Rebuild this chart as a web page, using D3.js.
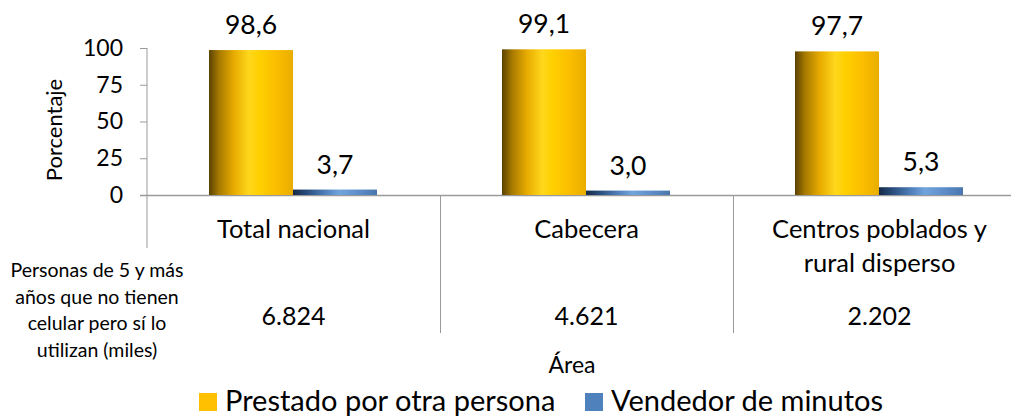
<!DOCTYPE html>
<html>
<head>
<meta charset="utf-8">
<script src="https://cdn.jsdelivr.net/npm/d3@7"></script>
<style>
  body { margin: 0; background: #fff; }
  text { font-family: Lato, "Open Sans", sans-serif; fill: #000; }
</style>
</head>
<body>
<svg id="chart" width="1011" height="418"></svg>
<script>
var categories = ["Total nacional", "Cabecera", "Centros poblados y rural disperso"];
var categoryLines = [["Total nacional"], ["Cabecera"], ["Centros poblados y", "rural disperso"]];
var series = ["Prestado por otra persona", "Vendedor de minutos"];
var prestado = [98.6, 99.1, 97.7];
var vendedor = [3.7, 3.0, 5.3];
var personasMiles = [6824, 4621, 2202];
var yTicks = [0, 25, 50, 75, 100];
var tableLabel = ["Personas de 5 y más", "años que no tienen", "celular pero sí lo", "utilizan (miles)"];

var locale = d3.formatLocale({decimal: ",", thousands: ".", grouping: [3], currency: ["", ""]});
var fmtPct = locale.format(".1f");
var fmtMiles = locale.format(",d");

var svg = d3.select("#chart");
var colors = ["#ffc000", "#4f81bd"];

var defs = svg.append("defs");
function addGradient(id, stops) {
	var g = defs.append("linearGradient").attr("id", id)
		.attr("x1", 0).attr("y1", 0).attr("x2", 1).attr("y2", 0);
	stops.forEach(function(s) {
		g.append("stop").attr("offset", s[0]).attr("stop-color", s[1]);
	});
}
addGradient("gYellow", [[0, "#5a4200"], [0.12, "#a77a00"], [0.3, "#e8ac00"], [0.48, "#ffd81c"], [0.6, "#ffd000"], [0.8, "#fbbe00"], [1, "#e9ad00"]]);
addGradient("gBlue", [[0, "#162a48"], [0.15, "#274a78"], [0.4, "#5384c0"], [0.55, "#72a4dc"], [0.8, "#5b8cc8"], [1, "#4a76ad"]]);
var fills = ["url(#gYellow)", "url(#gBlue)"];

var y = d3.scaleLinear().domain([0, 100]).range([195, 48]);
var x0 = d3.scaleBand().domain(categories).range([147, 147 + 3 * 293]);
var x1 = d3.scaleBand().domain(series).range([62, 230]);

var rows = categories.map(function(c, i) {
	return {cat: c, values: [prestado[i], vendedor[i]]};
});

// y axis
var yAxis = svg.append("g")
	.attr("transform", "translate(147,0)")
	.call(d3.axisLeft(y).tickValues(yTicks).tickSize(7).tickPadding(17));
yAxis.select(".domain").remove();
yAxis.selectAll("line").attr("stroke", "#9a9a9a");
yAxis.selectAll("text").attr("font-size", 23).attr("font-family", "Lato, sans-serif").attr("fill", "#000");

svg.append("line")
	.attr("x1", 147).attr("x2", 147).attr("y1", y(100)).attr("y2", 248)
	.attr("stroke", "#9a9a9a");
svg.append("line")
	.attr("x1", 140).attr("x2", 1011).attr("y1", 195.5).attr("y2", 195.5)
	.attr("stroke", "#9a9a9a").attr("stroke-width", 1.5);

svg.append("text")
	.attr("transform", "translate(62,130) rotate(-90)")
	.attr("text-anchor", "middle")
	.attr("font-size", 22)
	.text("Porcentaje");

// bars
var group = svg.append("g").selectAll("g")
	.data(rows)
	.enter().append("g")
	.attr("transform", function(d) { return "translate(" + x0(d.cat) + ",0)"; });

group.selectAll("rect")
	.data(function(d) { return d.values; })
	.enter().append("rect")
	.attr("x", function(d, i) { return x1(series[i]); })
	.attr("width", x1.bandwidth())
	.attr("y", function(d) { return y(d); })
	.attr("height", function(d) { return y(0) - y(d); })
	.attr("fill", function(d, i) { return fills[i]; });

group.selectAll("text.val")
	.data(function(d) { return d.values; })
	.enter().append("text")
	.attr("class", "val")
	.attr("x", function(d, i) { return x1(series[i]) + x1.bandwidth() / 2; })
	.attr("y", function(d) { return y(d) - 16; })
	.attr("text-anchor", "middle")
	.attr("font-size", 26.5)
	.text(function(d) { return fmtPct(d); });

// category dividers and labels
categories.forEach(function(c, i) {
	if (i > 0) {
		svg.append("line")
			.attr("x1", x0(c) + 0.5).attr("x2", x0(c) + 0.5).attr("y1", 195).attr("y2", 333)
			.attr("stroke", "#9a9a9a");
	}
	var cx = x0(c) + x0.bandwidth() / 2;
	var t = svg.append("text")
		.attr("text-anchor", "middle")
		.attr("font-size", 25.5);
	categoryLines[i].forEach(function(line, j) {
		t.append("tspan").attr("x", cx).attr("y", 238 + j * 34).text(line);
	});
	svg.append("text")
		.attr("x", cx).attr("y", 325)
		.attr("text-anchor", "middle")
		.attr("font-size", 25)
		.text(fmtMiles(personasMiles[i]));
});

var tl = svg.append("text")
	.attr("text-anchor", "middle")
	.attr("font-size", 19.5);
tableLabel.forEach(function(line, j) {
	tl.append("tspan").attr("x", 97).attr("y", 277 + j * 26.7).text(line);
});

svg.append("text")
	.attr("x", 572).attr("y", 373)
	.attr("text-anchor", "middle")
	.attr("font-size", 23)
	.text("Área");

// legend
var legendX = [199, 585];
var legend = svg.append("g").selectAll("g")
	.data(series)
	.enter().append("g")
	.attr("transform", function(d, i) { return "translate(" + legendX[i] + ",393)"; });
legend.append("rect")
	.attr("width", 18).attr("height", 18)
	.attr("fill", function(d, i) { return colors[i]; });
legend.append("text")
	.attr("x", 26).attr("y", 18)
	.attr("font-size", 29)
	.text(function(d) { return d; });
</script>
</body>
</html>
